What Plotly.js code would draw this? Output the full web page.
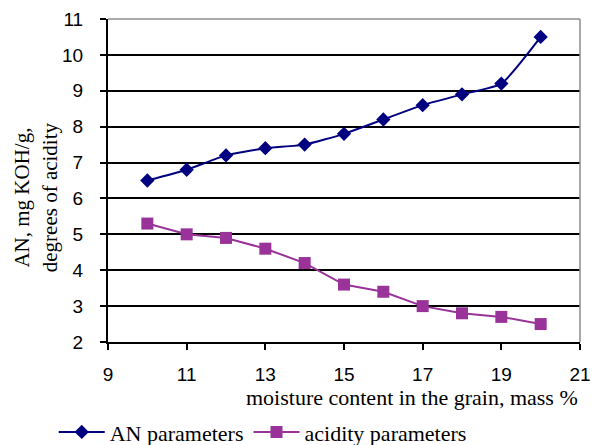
<!DOCTYPE html>
<html>
<head>
<meta charset="utf-8">
<script src="https://cdn.plot.ly/plotly-3.0.1.min.js"></script>
<style>html,body{margin:0;padding:0;background:#fff;}#chart{width:602px;height:445px;}</style>
</head>
<body>
<div id="chart"></div>
<script>
const moisture = [10, 11, 12, 13, 14, 15, 16, 17, 18, 19, 20];
const anValues = [6.5, 6.8, 7.2, 7.4, 7.5, 7.8, 8.2, 8.6, 8.9, 9.2, 10.5];
const acidityValues = [5.3, 5.0, 4.9, 4.6, 4.2, 3.6, 3.4, 3.0, 2.8, 2.7, 2.5];
const xTicks = [9, 11, 13, 15, 17, 19, 21];
const yTicks = [2, 3, 4, 5, 6, 7, 8, 9, 10, 11];
const seriesNames = ["AN parameters", "acidity parameters"];
const xTitle = "moisture content in the grain, mass %";
const yTitle = "AN, mg KOH/g,<br>degrees of acidity";

const serif = "Liberation Serif, Times New Roman, serif";
const sans = "Liberation Sans, Arial, sans-serif";

const traces = [
  {x: moisture, y: anValues, name: seriesNames[0], type: "scatter", mode: "lines+markers",
   line: {color: "#000080", width: 2, shape: "spline", smoothing: 0.5},
   marker: {symbol: "diamond", size: 11, color: "#000080"}},
  {x: moisture, y: acidityValues, name: seriesNames[1], type: "scatter", mode: "lines+markers",
   line: {color: "#993399", width: 2},
   marker: {symbol: "square", size: 12, color: "#993399"}}
];

const layout = {
  width: 602, height: 445,
  margin: {l: 108, r: 22, t: 19, b: 103, autoexpand: false},
  paper_bgcolor: "#fff", plot_bgcolor: "#fff",
  showlegend: true,
  legend: {orientation: "h", x: -0.115, xanchor: "left", y: -0.279, yanchor: "middle",
           font: {family: serif, size: 22, color: "#000"}, bgcolor: "rgba(0,0,0,0)",
           itemwidth: 46, itemclick: false, tracegroupgap: 0},
  xaxis: {range: [9, 21], tickvals: xTicks, ticktext: xTicks.map(String),
          showgrid: false, zeroline: false, showline: true, linecolor: "#000", linewidth: 2,
          ticks: "outside", ticklen: 6, tickwidth: 2, tickcolor: "#000", ticklabelstandoff: 8,
          tickfont: {family: sans, size: 19, color: "#000"}, fixedrange: true, automargin: false},
  yaxis: {range: [2, 11], tickvals: yTicks, ticktext: yTicks.map(String),
          showgrid: true, gridcolor: "#000", gridwidth: 2, zeroline: false,
          showline: true, linecolor: "#000", linewidth: 2,
          ticks: "outside", ticklen: 6, tickwidth: 2, tickcolor: "#000", ticklabelstandoff: 13,
          tickfont: {family: sans, size: 19, color: "#000"}, fixedrange: true, automargin: false},
  shapes: [
    {type: "line", xref: "paper", yref: "paper", x0: 0, x1: 1, y0: 1, y1: 1, line: {color: "#8c8c8c", width: 1.5}},
    {type: "line", xref: "paper", yref: "paper", x0: 1, x1: 1, y0: 0, y1: 1, line: {color: "#8c8c8c", width: 1.5}}
  ],
  annotations: [
    {text: xTitle, xref: "paper", yref: "paper", x: 1, xanchor: "right", y: -0.173, yanchor: "middle",
     showarrow: false, font: {family: serif, size: 22, color: "#000"}},
    {text: yTitle, xref: "paper", yref: "paper", x: -0.152, xanchor: "center", y: 0.449, yanchor: "middle",
     textangle: -90, showarrow: false, font: {family: serif, size: 21, color: "#000"}}
  ]
};

Plotly.newPlot("chart", traces, layout, {displayModeBar: false, staticPlot: true});
</script>
</body>
</html>
